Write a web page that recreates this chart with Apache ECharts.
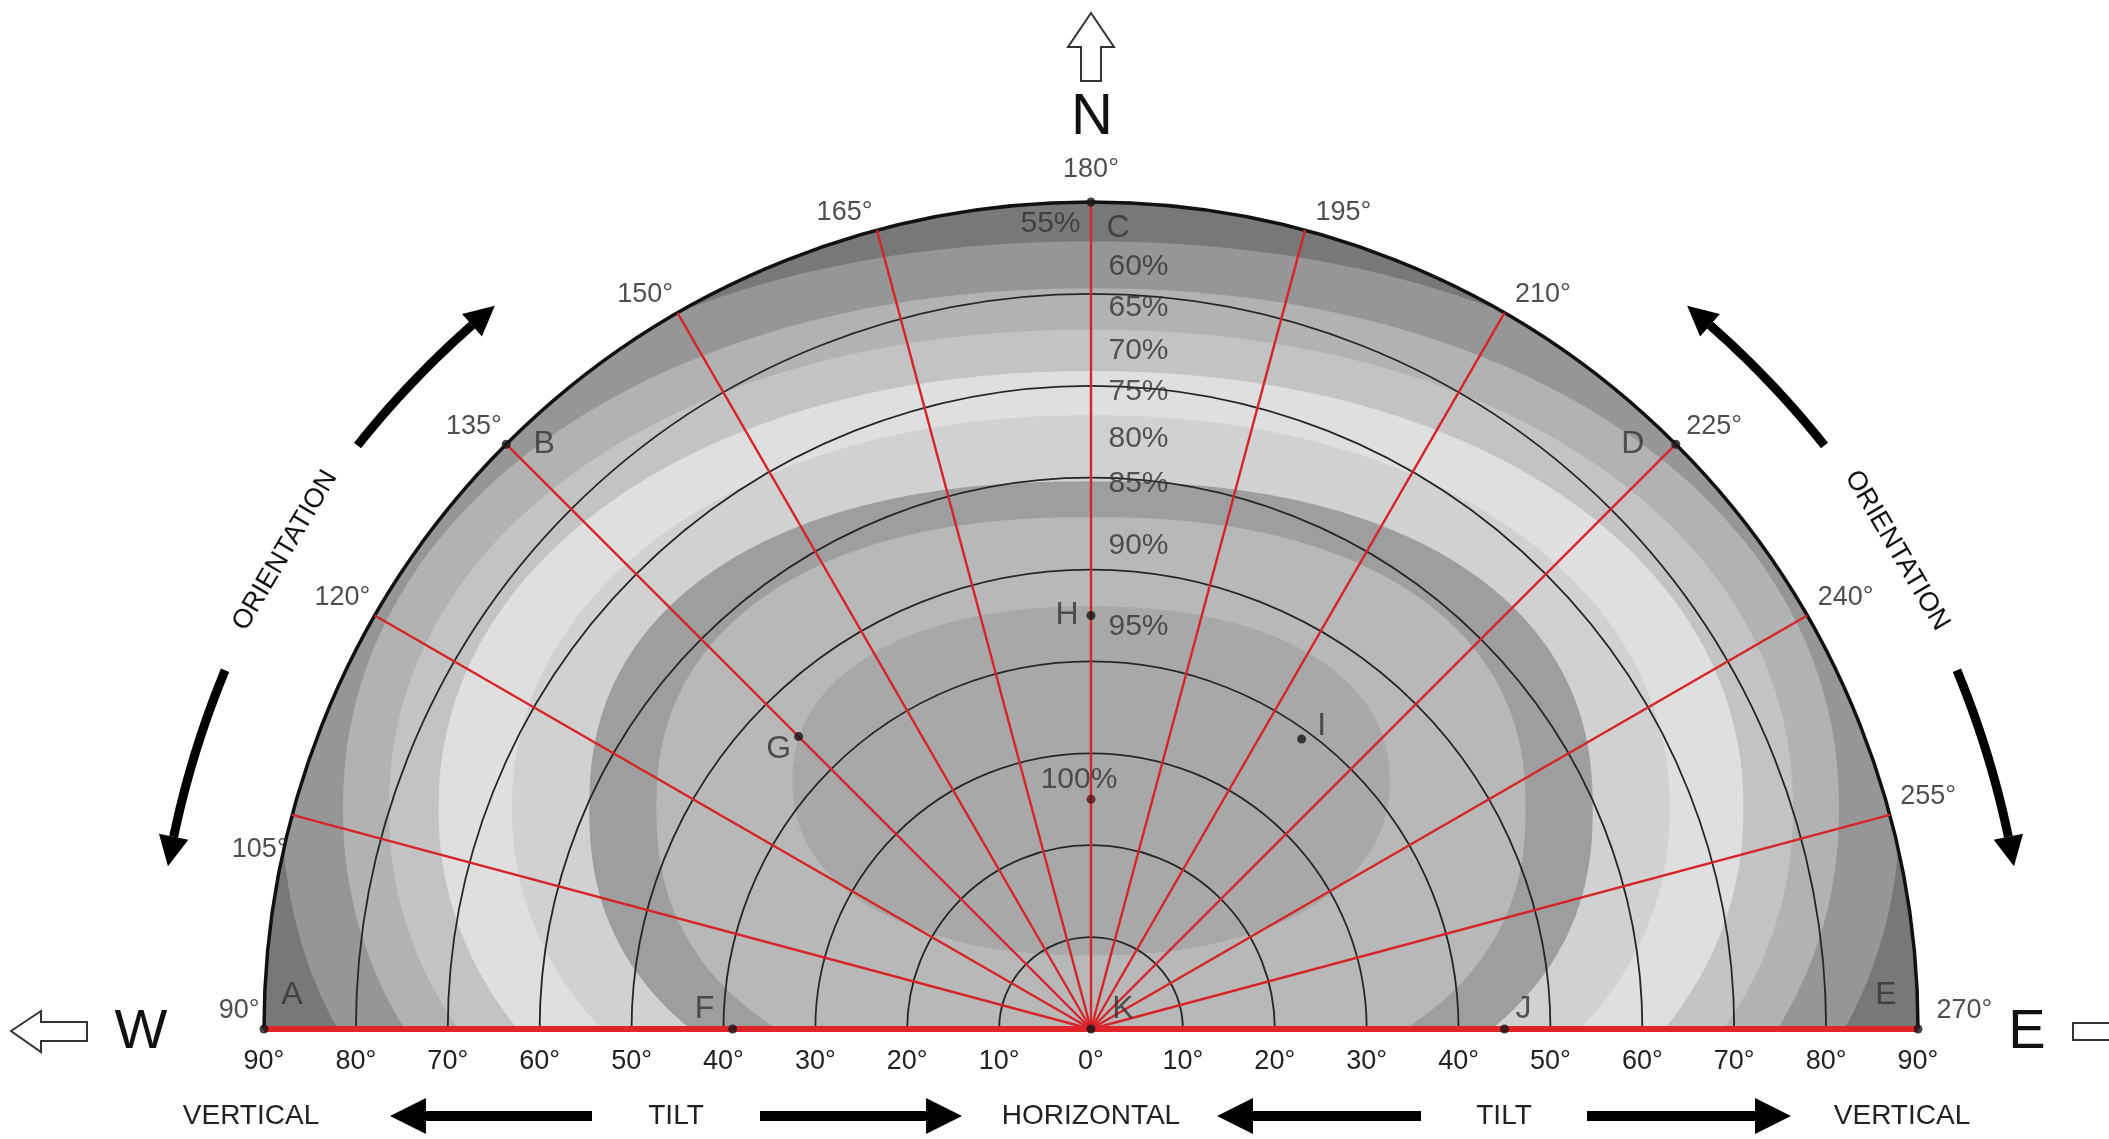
<!DOCTYPE html>
<html>
<head>
<meta charset="utf-8">
<title>Orientation / tilt diagram</title>
<script src="https://cdn.jsdelivr.net/npm/echarts@6/dist/echarts.min.js"></script>
<style>
html,body{margin:0;padding:0;background:#fff;}
#chart{width:2109px;height:1139px;}
</style>
</head>
<body>
<div id="chart"></div>
<script>
// orientation of the radial lines (90 = W, 180 = N, 270 = E)
var orientations = [90, 105, 120, 135, 150, 165, 180, 195, 210, 225, 240, 255, 270];
// tilt circles (degrees)
var tiltCircles = [10, 20, 30, 40, 50, 60, 70, 80];

// contour of each level in tilt degrees
var contourLevels    = [60, 65, 70, 75, 80, 85, 90, 95];
var contourCenter    = [24, 24, 24, 24, 24, 24, 24, 27];
var contourTop       = [85.7, 80.6, 76.1, 71.6, 66.8, 59.6, 55.7, 46];
var contourHalfWidth = [88, 81.4, 76.4, 71, 63, 54.6, 47.3, 32.5];
var contourPower     = [2.1, 2.1, 2.1, 2.1, 2.1, 2.3, 2.3, 2.2];

// band labels on the 180 line
var bandLabels    = ['55%', '60%', '65%', '70%', '75%', '80%', '85%', '90%', '95%', '100%'];
var bandLabelTilt = [87.6, 83.0, 78.5, 73.8, 69.3, 64.2, 59.3, 52.6, 43.8, 27.1];

// marked points
var pointNames  = ['A', 'B', 'C', 'D', 'E', 'F', 'G', 'H', 'I', 'J', 'K'];
var pointOrient = [90, 135, 180, 225, 270, 90, 135, 180, 216, 270, 180];
var pointTilt   = [90, 90, 90, 90, 90, 39, 45, 45, 39, 45, 0];
var peakPoint   = [180, 25];

// ---------------------------------------------------------------
var FONT = '"Liberation Sans", Arial, Helvetica, sans-serif';
var bandColors = ['#787878', '#969696', '#b2b2b2', '#c3c3c3', '#dfdfdf', '#d1d1d1', '#9e9e9e', '#b8b8b8', '#a8a8a8'];
var letterOffset = {A:[28,-34], B:[38,0], C:[27,26], D:[-43,0], E:[-32,-34], F:[-28,-20],
                    G:[-20,13], H:[-24,0], I:[20,-13], J:[19,-20], K:[32,-20]};

var myChart = echarts.init(document.getElementById('chart'));

// orientation + tilt -> x,y in tilt units (K at origin)
function toXY(orient, tilt){
	var phi = (270 - orient) * Math.PI / 180;
	return [tilt * Math.cos(phi), tilt * Math.sin(phi)];
}

function contourPath(i, api){
	var cy = contourCenter[i], a = contourHalfWidth[i], b = contourTop[i] - cy, n = contourPower[i];
	var pts = [];
	for (var k = 0; k < 360; k++){
		var t = k * Math.PI / 180;
		var c = Math.cos(t), s = Math.sin(t);
		var x = a * (c < 0 ? -1 : 1) * Math.pow(Math.abs(c), 2 / n);
		var y = cy + b * (s < 0 ? -1 : 1) * Math.pow(Math.abs(s), 2 / n);
		if (y < 0) y = 0;
		var r = Math.sqrt(x * x + y * y);
		if (r > 90){ x = x * 90 / r; y = y * 90 / r; }
		pts.push(api.coord([x, y]));
	}
	return pts;
}

// curved ORIENTATION arrow: shaft from a0 to tip a1 (degrees), radius in px
function arcArrow(o, R, a0, a1, children){
	var dir = a1 > a0 ? 1 : -1;
	var head = 30 / R * 180 / Math.PI;
	var base = a1 - dir * head;
	var pts = [];
	for (var k = 0; k <= 30; k++){
		var a = (a0 + (base - a0) * k / 30) * Math.PI / 180;
		pts.push([o[0] + R * Math.cos(a), o[1] - R * Math.sin(a)]);
	}
	children.push({type:'polyline', shape:{points:pts}, style:{stroke:'#000', lineWidth:9, fill:'none'}});
	var b = base * Math.PI / 180, t = a1 * Math.PI / 180;
	children.push({type:'polygon', shape:{points:[
		[o[0] + (R - 15) * Math.cos(b), o[1] - (R - 15) * Math.sin(b)],
		[o[0] + R * Math.cos(t), o[1] - R * Math.sin(t)],
		[o[0] + (R + 15) * Math.cos(b), o[1] - (R + 15) * Math.sin(b)]
	]}, style:{fill:'#000'}});
}

function solidArrow(tip, end, y){
	var d = end > tip ? 1 : -1, h = tip + d * 36;
	return [[tip,y],[h,y-18],[h,y-5],[end,y-5],[end,y+5],[h,y+5],[h,y+18]];
}

var pointData = pointNames.map(function(nm, i){
	return {name:nm, value:toXY(pointOrient[i], pointTilt[i]), label:{offset:letterOffset[nm]}};
});

var orientData = orientations.map(function(o){
	var lab;
	if (o < 180) lab = {position:'left', distance:4, offset:[0, o === 105 ? 35 : -18]};
	else if (o > 180) lab = {position:'right', distance:o === 270 ? 18 : 10, offset:[0,-18]};
	else lab = {position:'top', distance:18};
	return {name:o + '°', value:toXY(o, 90), label:lab};
});

var bandLabelData = bandLabels.map(function(t, i){
	var lab;
	if (i === 0) lab = {position:'left', distance:10};
	else if (t === '100%') lab = {position:'inside', offset:[-12,0]};
	else lab = {position:'right', distance:17};
	return {name:t, value:[0, bandLabelTilt[i]], label:lab};
});

var bottomTexts = [['VERTICAL',251],['TILT',676],['HORIZONTAL',1091],['TILT',1504],['VERTICAL',1902]];
var graphics = [
	{type:'text', x:1092, y:118, style:{text:'N', fontSize:58, fontFamily:FONT, fill:'#111', align:'center', verticalAlign:'middle', textAlign:'center', textVerticalAlign:'middle'}},
	{type:'text', x:141, y:1033, style:{text:'W', fontSize:56, fontFamily:FONT, fill:'#111', align:'center', verticalAlign:'middle', textAlign:'center', textVerticalAlign:'middle'}},
	{type:'text', x:2027, y:1033, style:{text:'E', fontSize:56, fontFamily:FONT, fill:'#111', align:'center', verticalAlign:'middle', textAlign:'center', textVerticalAlign:'middle'}},
	{type:'polygon', shape:{points:[[1091,13],[1114,47],[1101,47],[1101,81],[1081,81],[1081,47],[1068,47]]}, style:{fill:'#fff', stroke:'#333', lineWidth:2}},
	{type:'polygon', shape:{points:[[11,1031],[41,1011],[41,1022],[87,1022],[87,1041],[41,1041],[41,1052]]}, style:{fill:'#fff', stroke:'#333', lineWidth:2}},
	{type:'polyline', shape:{points:[[2115,1023],[2073,1023],[2073,1040],[2115,1040]]}, style:{fill:'none', stroke:'#333', lineWidth:2}},
	{type:'polygon', shape:{points:solidArrow(390, 592, 1116)}, style:{fill:'#000'}},
	{type:'polygon', shape:{points:solidArrow(962, 760, 1116)}, style:{fill:'#000'}},
	{type:'polygon', shape:{points:solidArrow(1217, 1421, 1116)}, style:{fill:'#000'}},
	{type:'polygon', shape:{points:solidArrow(1791, 1587, 1116)}, style:{fill:'#000'}}
];
bottomTexts.forEach(function(b){
	graphics.push({type:'text', x:b[1], y:1116, style:{text:b[0], fontSize:28, fontFamily:FONT, fill:'#222', align:'center', verticalAlign:'middle', textAlign:'center', textVerticalAlign:'middle'}});
});

option = {
	backgroundColor:'#fff',
	animation:false,
	grid:{left:264, right:191, top:202, bottom:110, outerBoundsMode:'none'},
	xAxis:{
		type:'value', min:-90, max:90, interval:10,
		axisLine:{show:false}, axisTick:{show:false}, splitLine:{show:false},
		axisLabel:{margin:19, fontSize:27, fontFamily:FONT, color:'#222',
			formatter:function(v){ return Math.abs(v) + '°'; }}
	},
	yAxis:{type:'value', min:0, max:90, show:false, splitLine:{show:false}},
	graphic:graphics,
	series:[
		{
			// grey irradiation bands
			type:'custom', coordinateSystem:'cartesian2d', clip:false, silent:true, z:1,
			data:bandColors.map(function(){ return [0, 0]; }),
			renderItem:function(params, api){
				var i = params.dataIndex;
				var o = api.coord([0, 0]);
				var R = api.size([90, 0])[0];
				if (i === 0){
					return {type:'sector', z2:0, shape:{cx:o[0], cy:o[1], r0:0, r:R, startAngle:Math.PI, endAngle:Math.PI * 2}, style:{fill:bandColors[0]}};
				}
				return {type:'polygon', z2:i, shape:{points:contourPath(i - 1, api)}, style:{fill:bandColors[i]}};
			}
		},
		{
			// tilt circles, outline and red orientation lines
			type:'custom', coordinateSystem:'cartesian2d', clip:false, silent:true, z:2,
			data:[[0, 0]],
			renderItem:function(params, api){
				var o = api.coord([0, 0]);
				var u = api.size([1, 0])[0];
				var ch = [];
				tiltCircles.forEach(function(t){
					ch.push({type:'arc', shape:{cx:o[0], cy:o[1], r:t * u, startAngle:Math.PI, endAngle:Math.PI * 2}, style:{stroke:'#262626', lineWidth:1.8, fill:'none'}});
				});
				ch.push({type:'arc', shape:{cx:o[0], cy:o[1], r:90 * u, startAngle:Math.PI, endAngle:Math.PI * 2}, style:{stroke:'#111', lineWidth:3.5, fill:'none'}});
				orientations.forEach(function(or){
					if (or === 90 || or === 270) return;
					var p = api.coord(toXY(or, 90));
					ch.push({type:'line', shape:{x1:o[0], y1:o[1], x2:p[0], y2:p[1]}, style:{stroke:'#d6242a', lineWidth:2.4}});
				});
				var w = api.coord(toXY(90, 90)), e = api.coord(toXY(270, 90));
				ch.push({type:'line', shape:{x1:w[0], y1:w[1], x2:e[0], y2:e[1]}, style:{stroke:'#e1232a', lineWidth:6}});
				return {type:'group', children:ch};
			}
		},
		{
			// ORIENTATION arrows
			type:'custom', coordinateSystem:'cartesian2d', clip:false, silent:true, z:3,
			data:[[0, 0]],
			renderItem:function(params, api){
				var o = api.coord([0, 0]);
				var R = api.size([102, 0])[0];
				var ch = [];
				arcArrow(o, R, 157.5, 170, ch);
				arcArrow(o, R, 141.5, 129.5, ch);
				arcArrow(o, R, 38.5, 50.5, ch);
				arcArrow(o, R, 22.5, 10, ch);
				[[149.3, 59.5], [30.7, -59.5]].forEach(function(t){
					var a = t[0] * Math.PI / 180;
					ch.push({type:'text', x:o[0] + R * Math.cos(a), y:o[1] - R * Math.sin(a), rotation:t[1] * Math.PI / 180,
						style:{text:'ORIENTATION', fontSize:27, fontFamily:FONT, fill:'#111', align:'center', verticalAlign:'middle', textAlign:'center', textVerticalAlign:'middle'}});
				});
				return {type:'group', children:ch};
			}
		},
		{
			// orientation degree labels
			type:'scatter', z:6, silent:true, symbolSize:1,
			itemStyle:{color:'transparent'},
			label:{show:true, formatter:'{b}', fontSize:27, fontFamily:FONT, color:'#222'},
			data:orientData
		},
		{
			// percent labels on the north line
			type:'scatter', z:6, silent:true, symbolSize:1,
			itemStyle:{color:'transparent'},
			label:{show:true, formatter:'{b}', fontSize:30, fontFamily:FONT, color:'#333'},
			data:bandLabelData
		},
		{
			// lettered points
			type:'scatter', z:7, silent:true, symbolSize:9,
			itemStyle:{color:'#151515'},
			label:{show:true, position:'inside', formatter:'{b}', fontSize:32, fontFamily:FONT, color:'#333'},
			data:pointData
		},
		{
			// 100% point
			type:'scatter', z:7, silent:true, symbolSize:9,
			itemStyle:{color:'#5a1414'},
			data:[toXY(peakPoint[0], peakPoint[1])]
		}
	]
};

myChart.setOption(option);
</script>
</body>
</html>
